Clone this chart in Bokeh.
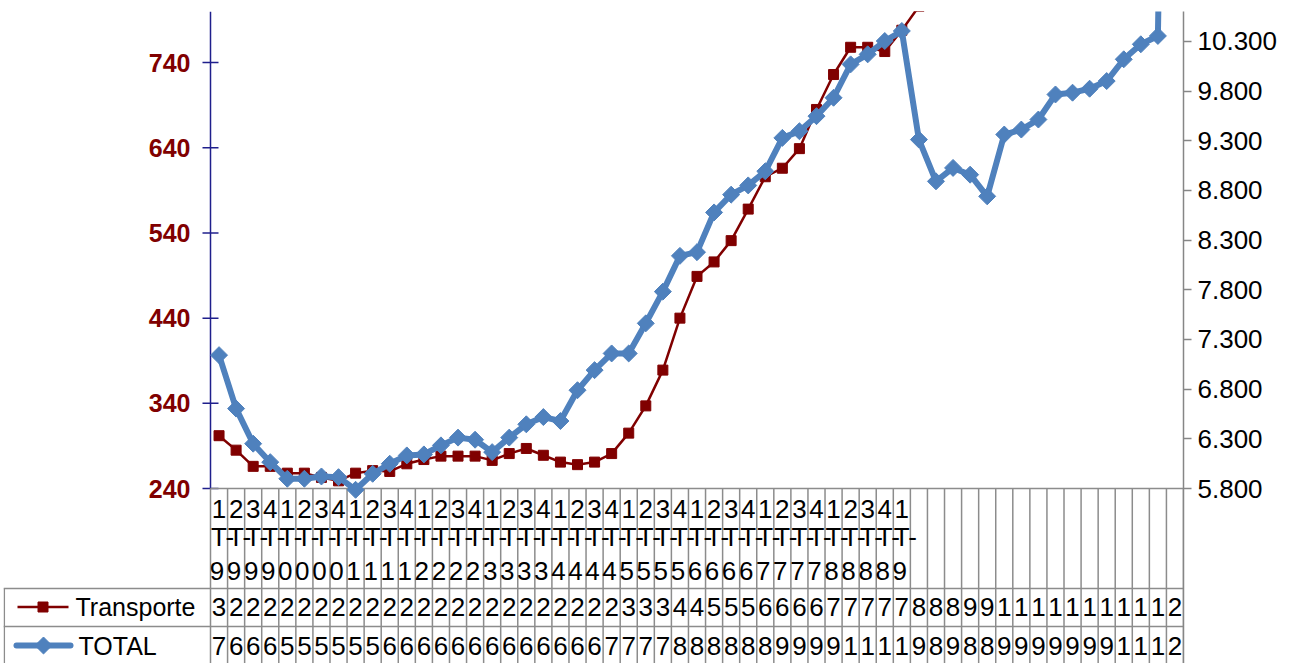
import numpy as np
from bokeh.plotting import figure
from bokeh.models import Range1d, LinearAxis, FixedTicker, CustomJSTickFormatter, ColumnDataSource
from bokeh.embed import file_html
from bokeh.resources import INLINE
from bokeh.core.properties import value

# ---------------- data ----------------
quarters = [
    "1T-99", "2T-99", "3T-99", "4T-99",
    "1T-00", "2T-00", "3T-00", "4T-00",
    "1T-01", "2T-01", "3T-01", "4T-01",
    "1T-02", "2T-02", "3T-02", "4T-02",
    "1T-03", "2T-03", "3T-03", "4T-03",
    "1T-04", "2T-04", "3T-04", "4T-04",
    "1T-05", "2T-05", "3T-05", "4T-05",
    "1T-06", "2T-06", "3T-06", "4T-06",
    "1T-07", "2T-07", "3T-07", "4T-07",
    "1T-08", "2T-08", "3T-08", "4T-08",
    "1T-09",
    "", "", "", "", "", "", "", "", "", "", "", "", "", "", "", "",
]

transporte = [302, 285, 266, 266, 258, 258, 253, 249, 258, 261, 260, 269, 274, 278, 278,
              278, 273, 281, 287, 279, 271, 268, 271, 281, 305, 337, 379, 440, 489, 506,
              531, 568, 606, 616, 639, 685, 726, 758, 758, 753, 778, 806, 840, 875, 915,
              955, 1010, 1055, 1095, 1140, 1185, 1230, 1275, 1320, 1370, 1420, 2050]

total = [7142, 6604, 6251, 6065, 5898, 5898, 5921, 5914, 5787, 5948, 6049, 6133, 6143, 6234,
         6312, 6291, 6166, 6312, 6446, 6519, 6479, 6789, 6991, 7159, 7159, 7462, 7781, 8141,
         8178, 8578, 8757, 8850, 8992, 9328, 9395, 9547, 9732, 10068, 10169, 10303, 10404,
         9311, 8891, 9026, 8958, 8740, 9362, 9412, 9513, 9765, 9783, 9823, 9900, 10119,
         10270, 10354, 20600]

left_ticks = [240, 340, 440, 540, 640, 740]
right_ticks = [5800, 6300, 6800, 7300, 7800, 8300, 8800, 9300, 9800, 10300]
series_names = ["Transporte", "TOTAL"]

# ---------------- style / layout (page pixels) ----------------
RED = "#800000"
BLUE = "#4F81BD"
NAVY = "#1f1f8c"
GRID = "#8c8c8c"
FONT = "Liberation Sans"

W, H = 1293, 663
TABLE_LEFT = 3          # left border of the data table
AXIS_X = 210            # left value axis / first category column
AXIS_R = 1183           # right value axis / last category column
PLOT_TOP, PLOT_BOT = 11, 488
ROW1, ROW2 = 588, 626   # horizontal lines of the data table

N = len(quarters)
COLW = (AXIS_R - AXIS_X) / N
L_MIN, L_MAX = 240, 800
R_MIN, R_MAX = 5800, 10600
k_left = (L_MAX - L_MIN) / (PLOT_BOT - PLOT_TOP)
k_right = (R_MAX - R_MIN) / (PLOT_BOT - PLOT_TOP)

def ux(px):
    return (px - AXIS_X) / COLW

xs = np.arange(N) + 0.5

p = figure(width=W, height=H,
           x_range=Range1d(ux(TABLE_LEFT), N),
           y_range=Range1d(L_MIN - (H - PLOT_BOT) * k_left, L_MAX),
           output_backend="svg", toolbar_location=None,
           x_axis_location=None, y_axis_location=None,
           min_border_left=TABLE_LEFT, min_border_right=W - AXIS_R,
           min_border_top=PLOT_TOP, min_border_bottom=0)
p.outline_line_color = None
p.xgrid.visible = False
p.ygrid.visible = False
p.extra_y_ranges = {
    "right": Range1d(R_MIN - (H - PLOT_BOT) * k_right, R_MAX),
    "tbl": Range1d(H, PLOT_TOP),
}

# ---- right value axis (TOTAL) ----
ra = LinearAxis(y_range_name="right", ticker=FixedTicker(ticks=right_ticks),
                formatter=CustomJSTickFormatter(code=r"""
const s = Math.round(tick).toString();
return s.replace(/\B(?=(\d{3})+(?!\d))/g, ".");
"""))
ra.axis_line_color = "#868686"
ra.axis_line_width = 1.5
ra.major_tick_line_color = "#868686"
ra.major_tick_line_width = 1.5
ra.major_tick_in = 0
ra.major_tick_out = 8
ra.minor_tick_line_color = None
ra.major_label_text_color = "black"
ra.major_label_text_font = FONT
ra.major_label_text_font_size = "26px"
ra.major_label_standoff = 6
p.add_layout(ra, "right")

# ---- left value axis (Transporte), drawn on the primary scale ----
p.segment(x0=[0], y0=[L_MIN], x1=[0], y1=[L_MAX], line_color=NAVY, line_width=1.5)
p.segment(x0=[-8 / COLW] * len(left_ticks), y0=left_ticks,
          x1=[8 / COLW] * len(left_ticks), y1=left_ticks, line_color=NAVY, line_width=1.5)
p.text(x=[-20 / COLW] * len(left_ticks), y=left_ticks, text=[str(v) for v in left_ticks],
       text_align="right", text_baseline="middle", text_color=RED,
       text_font=value(FONT), text_font_style="bold", text_font_size="25px")

# ---- data table ----
tb = dict(y_range_name="tbl")
p.segment(x0=[0], y0=[PLOT_BOT], x1=[N], y1=[PLOT_BOT], line_color=GRID, line_width=1.5, **tb)
p.segment(x0=[ux(TABLE_LEFT)] * 2, y0=[ROW1, ROW2], x1=[N, N], y1=[ROW1, ROW2],
          line_color=GRID, line_width=1.5, **tb)
vx = np.arange(N + 1)
p.segment(x0=vx, y0=[PLOT_BOT] * (N + 1), x1=vx, y1=[H] * (N + 1),
          line_color=GRID, line_width=1.5, **tb)
p.segment(x0=[ux(TABLE_LEFT + 0.8)], y0=[ROW1], x1=[ux(TABLE_LEFT + 0.8)], y1=[H],
          line_color=GRID, line_width=1.5, **tb)

line1 = [q[:1] for q in quarters]
line2 = ["T-" if q else "" for q in quarters]
line3 = [q[-1:] for q in quarters]
cat = ColumnDataSource(dict(xc=xs, xl=np.arange(N) + 0.03, xy=xs - 0.12,
                            l1=line1, l2=line2, l3=line3))
cell_font = dict(text_font=value(FONT), text_font_size="26px", text_color="black",
                 text_baseline="middle", **tb)
p.text(x="xc", y=508, text="l1", source=cat, text_align="center", **cell_font)
p.text(x="xl", y=536, text="l2", source=cat, text_align="left", **cell_font)
p.text(x="xy", y=570, text="l3", source=cat, text_align="center", **cell_font)

cells = ColumnDataSource(dict(x=xs,
                              tr=[str(v)[0] for v in transporte],
                              tot=[str(v)[0] for v in total]))
p.text(x="x", y=606, text="tr", source=cells, text_align="center", **cell_font)
p.text(x="x", y=645, text="tot", source=cells, text_align="center", **cell_font)

# legend keys inside the table
p.segment(x0=[ux(17)], y0=[606.5], x1=[ux(68)], y1=[606.5], line_color=RED, line_width=2.5, **tb)
p.scatter(x=[ux(42.5)], y=[606.5], marker="square", size=10, fill_color=RED, line_color=RED, **tb)
p.segment(x0=[ux(16)], y0=[645], x1=[ux(70)], y1=[645], line_color=BLUE, line_width=6,
          line_cap="round", **tb)
p.scatter(x=[ux(43)], y=[645], marker="square", angle=np.pi / 4, size=12,
          fill_color=BLUE, line_color=BLUE, **tb)
p.text(x=[ux(75), ux(78)], y=[606, 645], text=series_names, text_align="left",
       text_font=value(FONT), text_font_size="25px", text_color="black",
       text_baseline="middle", **tb)

# ---- series (clipped at the plot top like the reference) ----
src = ColumnDataSource(dict(x=xs, tr=transporte, tot=total))
p.line("x", "tr", source=src, line_color=RED, line_width=2.5)
p.scatter("x", "tr", source=src, marker="square", size=10, fill_color=RED, line_color=RED)
p.line("x", "tot", source=src, line_color=BLUE, line_width=6, line_join="round",
       y_range_name="right")
p.scatter("x", "tot", source=src, marker="square", angle=np.pi / 4, size=12,
          fill_color=BLUE, line_color=BLUE, y_range_name="right")

open("out.html", "w").write(file_html(p, INLINE))
